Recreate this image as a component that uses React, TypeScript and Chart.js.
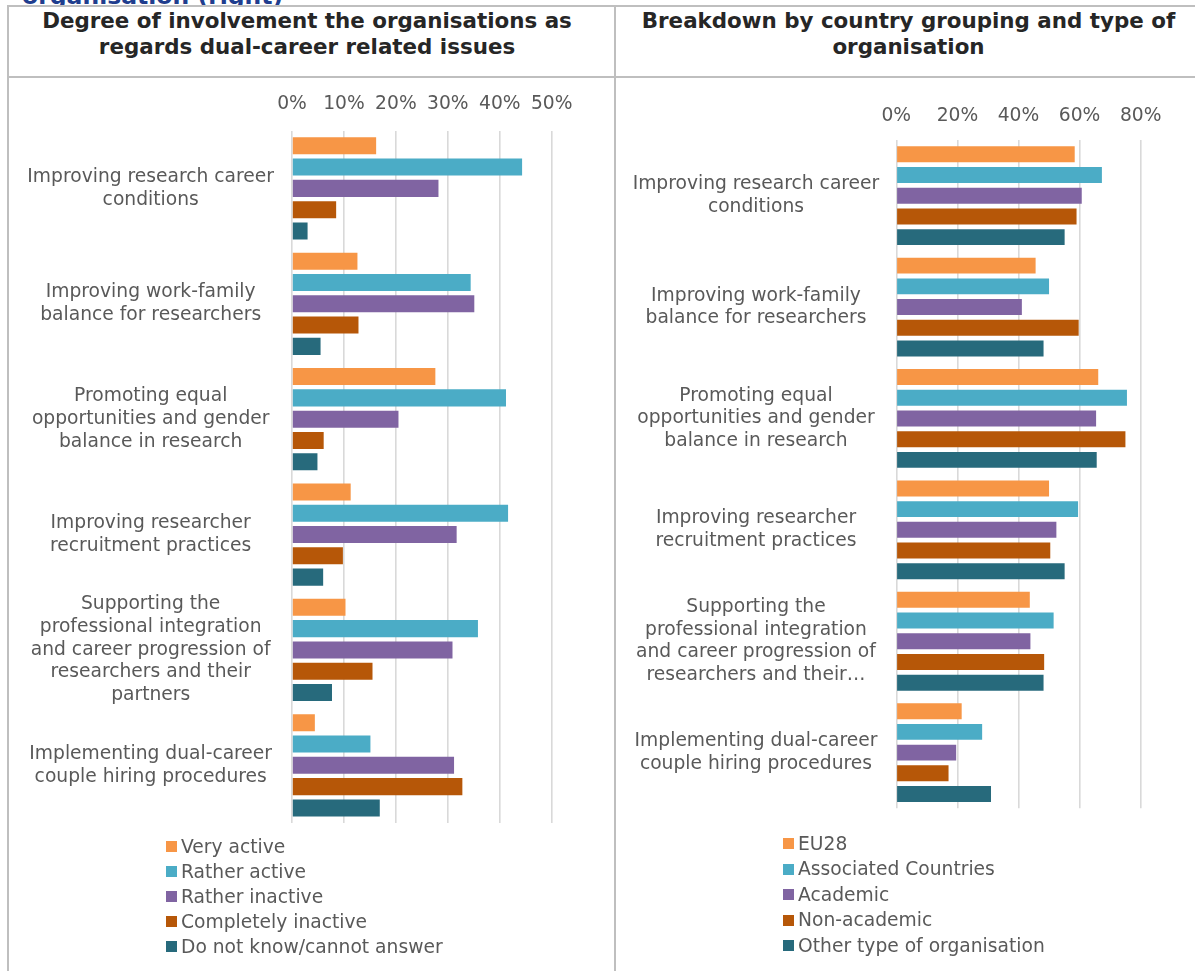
import React, { useEffect, useRef } from "react";
import { Chart, registerables } from "chart.js";

Chart.register(...registerables);

const FONT = "'DejaVu Sans', Verdana, sans-serif";
const TEXT_COLOR = "#595959";
const TEXT_SIZE = 18.7;

// ---- Left chart data ----
const leftCategories: string[][] = [
  ["Improving research career", "conditions"],
  ["Improving work-family", "balance for researchers"],
  ["Promoting equal", "opportunities and gender", "balance in research"],
  ["Improving researcher", "recruitment practices"],
  ["Supporting the", "professional integration", "and career progression of", "researchers and their", "partners"],
  ["Implementing dual-career", "couple hiring procedures"],
];
const leftSeriesNames = ["Very active", "Rather active", "Rather inactive", "Completely inactive", "Do not know/cannot answer"];
const veryActive = [16.2, 12.6, 27.6, 11.3, 10.3, 4.4];
const ratherActive = [44.3, 34.4, 41.2, 41.6, 35.8, 15.1];
const ratherInactive = [28.2, 35.1, 20.5, 31.7, 30.9, 31.2];
const completelyInactive = [8.5, 12.8, 6.1, 9.8, 15.5, 32.8];
const doNotKnow = [3.0, 5.5, 4.9, 6.0, 7.7, 16.9];
const leftAxisMax = 50;
const leftAxisStep = 10;

// ---- Right chart data ----
const rightCategories: string[][] = [
  ["Improving research career", "conditions"],
  ["Improving work-family", "balance for researchers"],
  ["Promoting equal", "opportunities and gender", "balance in research"],
  ["Improving researcher", "recruitment practices"],
  ["Supporting the", "professional integration", "and career progression of", "researchers and their\u2026"],
  ["Implementing dual-career", "couple hiring procedures"],
];
const rightSeriesNames = ["EU28", "Associated Countries", "Academic", "Non-academic", "Other type of organisation"];
const eu28 = [58.4, 45.6, 66.1, 50.0, 43.7, 21.4];
const associatedCountries = [67.3, 50.0, 75.5, 59.5, 51.5, 28.1];
const academic = [60.7, 41.1, 65.4, 52.4, 43.9, 19.6];
const nonAcademic = [59.0, 59.7, 75.0, 50.4, 48.4, 17.1];
const otherType = [55.1, 48.2, 65.6, 55.1, 48.2, 31.0];
const rightAxisMax = 80;
const rightAxisStep = 20;

const COLORS = ["#F79646", "#4BACC6", "#8064A2", "#B65708", "#276A7C"];

type ChartSpec = {
  categories: string[][];
  names: string[];
  series: number[][];
  max: number;
  step: number;
  width: number;
  height: number;
  yAxisWidth: number;
  xAxisHeight: number;
  padRight: number;
  padBottom: number;
  xTickPadding: number;
  yTickPadding: number;
  categoryPercentage: number;
  barPercentage: number;
};

function BarChart({ spec }: { spec: ChartSpec }) {
  const ref = useRef<HTMLCanvasElement | null>(null);
  useEffect(() => {
    if (!ref.current) return;
    const chart = new Chart(ref.current, {
      type: "bar",
      data: {
        labels: spec.categories,
        datasets: spec.series.map((d, i) => ({
          label: spec.names[i],
          data: d,
          backgroundColor: COLORS[i],
          borderWidth: 0,
          categoryPercentage: spec.categoryPercentage,
          barPercentage: spec.barPercentage,
        })),
      },
      options: {
        indexAxis: "y",
        responsive: false,
        maintainAspectRatio: false,
        animation: false,
        layout: { padding: { left: 0, top: 0, right: spec.padRight, bottom: spec.padBottom } },
        plugins: { legend: { display: false }, tooltip: { enabled: false } },
        scales: {
          x: {
            position: "top",
            min: 0,
            max: spec.max,
            ticks: {
              stepSize: spec.step,
              padding: spec.xTickPadding,
              color: TEXT_COLOR,
              font: { family: FONT, size: TEXT_SIZE, lineHeight: 1.2 },
              callback: (v: any) => v + "%",
              maxRotation: 0,
            },
            grid: { color: "#D9D9D9", lineWidth: 1.6, drawTicks: false },
            border: { display: false },
            afterFit: (s: any) => {
              s.height = spec.xAxisHeight;
              s.paddingLeft = 0;
              s.paddingRight = 0;
            },
          },
          y: {
            ticks: {
              crossAlign: "center",
              padding: spec.yTickPadding,
              color: TEXT_COLOR,
              font: { family: FONT, size: TEXT_SIZE, lineHeight: 1.215 },
              autoSkip: false,
            },
            grid: { display: false, drawTicks: false },
            border: { display: false },
            afterFit: (s: any) => {
              s.width = spec.yAxisWidth;
              s.paddingTop = 0;
              s.paddingBottom = 0;
            },
          },
        },
      } as any,
    });
    return () => chart.destroy();
  }, [spec]);
  return <canvas ref={ref} width={spec.width} height={spec.height} style={{ width: spec.width, height: spec.height, display: "block" }} />;
}

const leftSpec: ChartSpec = {
  categories: leftCategories,
  names: leftSeriesNames,
  series: [veryActive, ratherActive, ratherInactive, completelyInactive, doNotKnow],
  max: leftAxisMax,
  step: leftAxisStep,
  width: 604,
  height: 760,
  yAxisWidth: 283,
  xAxisHeight: 53.7,
  padRight: 61.3,
  padBottom: 14,
  xTickPadding: 15,
  yTickPadding: 18,
  categoryPercentage: 0.923,
  barPercentage: 0.8,
};

const rightSpec: ChartSpec = {
  categories: rightCategories,
  names: rightSeriesNames,
  series: [eu28, associatedCountries, academic, nonAcademic, otherType],
  max: rightAxisMax,
  step: rightAxisStep,
  width: 580,
  height: 760,
  yAxisWidth: 281.3,
  xAxisHeight: 63,
  padRight: 54.3,
  padBottom: 28.7,
  xTickPadding: 12.8,
  yTickPadding: 17,
  categoryPercentage: 0.93,
  barPercentage: 0.77,
};

function Legend({ names, left, top, spacing }: { names: string[]; left: number; top: number; spacing: number }) {
  return (
    <div style={{ position: "absolute", left, top }}>
      {names.map((n, i) => (
        <div key={n} style={{ position: "absolute", left: 0, top: i * spacing - 12, height: 24, display: "flex", alignItems: "center", whiteSpace: "nowrap" }}>
          <div style={{ width: 11, height: 11, background: COLORS[i], marginRight: 4, flex: "none" }} />
          <span style={{ fontFamily: FONT, fontSize: TEXT_SIZE, color: TEXT_COLOR, lineHeight: "24px" }}>{n}</span>
        </div>
      ))}
    </div>
  );
}

export default function App() {
  const line = "#BFBFBF";
  const titleStyle: React.CSSProperties = {
    position: "absolute",
    top: 8,
    width: 620,
    textAlign: "center",
    fontFamily: FONT,
    fontWeight: "bold",
    fontSize: 21.4,
    lineHeight: "26px",
    color: "#262626",
  };
  return (
    <div style={{ position: "absolute", left: 0, top: 0, width: 1195, height: 971, overflow: "hidden", background: "#fff" }}>
      <div style={{ position: "absolute", left: 22, top: -16.5, fontFamily: FONT, fontWeight: "bold", fontSize: 23.5, lineHeight: "24px", color: "#203D8E", whiteSpace: "nowrap" }}>
        organisation (right)
      </div>
      {/* table background and borders */}
      <div style={{ position: "absolute", left: 7, top: 5, width: 1200, height: 1000, background: "#fff" }} />
      <div style={{ position: "absolute", left: 7, top: 5, width: 1200, height: 2, background: line }} />
      <div style={{ position: "absolute", left: 7, top: 76, width: 1200, height: 2, background: line }} />
      <div style={{ position: "absolute", left: 7, top: 5, width: 2, height: 980, background: line }} />
      <div style={{ position: "absolute", left: 614, top: 5, width: 2, height: 980, background: line }} />

      <div style={{ ...titleStyle, left: 307 - 310 }}>
        Degree of involvement the organisations as<br />regards dual-career related issues
      </div>
      <div style={{ ...titleStyle, left: 908.5 - 310 }}>
        Breakdown by country grouping and type of<br />organisation
      </div>

      <div style={{ position: "absolute", left: 9, top: 77 }}>
        <BarChart spec={leftSpec} />
      </div>
      <div style={{ position: "absolute", left: 615, top: 77 }}>
        <BarChart spec={rightSpec} />
      </div>

      <Legend names={leftSeriesNames} left={166} top={846.5} spacing={25} />
      <Legend names={rightSeriesNames} left={783} top={843.5} spacing={25.5} />
    </div>
  );
}
